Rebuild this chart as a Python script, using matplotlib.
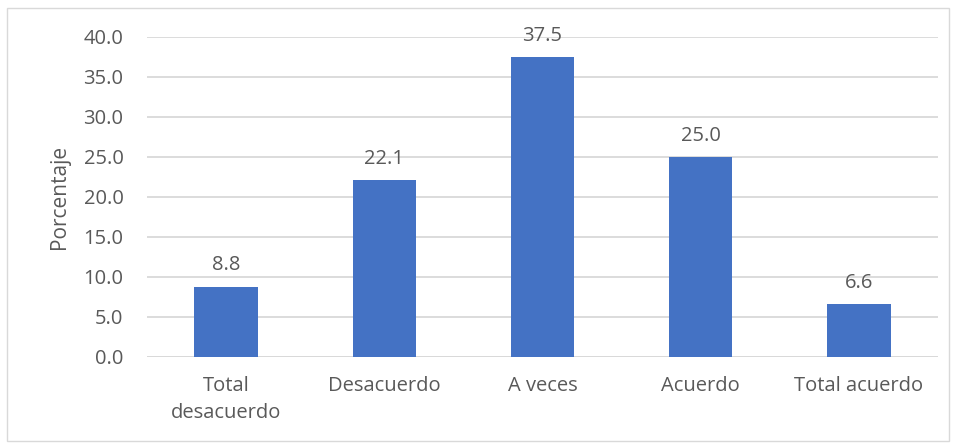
import matplotlib
matplotlib.use("Agg")
import matplotlib.pyplot as plt
from matplotlib.patches import Rectangle

categories = ["Total\ndesacuerdo", "Desacuerdo", "A veces", "Acuerdo", "Total acuerdo"]
values = [8.8, 22.1, 37.5, 25.0, 6.6]
yticks = [0, 5, 10, 15, 20, 25, 30, 35, 40]

plt.rcParams['font.family'] = ['Open Sans', 'DejaVu Sans']
W, H = 956, 443
fig = plt.figure(figsize=(W/100, H/100), dpi=100)
ax = fig.add_axes([147/W, 1-357/H, (938-147)/W, (357-37)/H])

text_color = "#595959"
grid_color = "#D9D9D9"
bar_color = "#4472C4"

x = list(range(len(categories)))
ax.bar(x, values, width=0.4, color=bar_color, zorder=3)
for xi, v in zip(x, values):
    ax.annotate(f"{v:.1f}", (xi, v), xytext=(0, 8), textcoords="offset points",
                ha="center", va="bottom", fontsize=14.5, color=text_color)

ax.set_xlim(-0.5, len(categories)-0.5)
ax.set_ylim(0, 40)
ax.set_yticks(yticks)
ax.set_yticklabels([f"{t:.1f}" for t in yticks])
ax.set_xticks(x)
ax.set_xticklabels(categories, linespacing=1.45)
ax.tick_params(axis='both', length=0, labelsize=14.5, colors=text_color)
ax.tick_params(axis='y', pad=17)
ax.tick_params(axis='x', pad=14)
ax.yaxis.grid(True, color=grid_color, linewidth=1.3, zorder=0)
for s in ax.spines.values():
    s.set_visible(False)
ax.axhline(0, color=grid_color, linewidth=1.3, zorder=2)
ax.set_ylabel("Porcentaje", fontsize=15, color=text_color, labelpad=10)

fig.patches.append(Rectangle((7/W, 1-441/H), (949-7)/W, (441-8)/H, transform=fig.transFigure,
                             fill=False, edgecolor=grid_color, linewidth=1))
fig.savefig("out.png", dpi=100)
